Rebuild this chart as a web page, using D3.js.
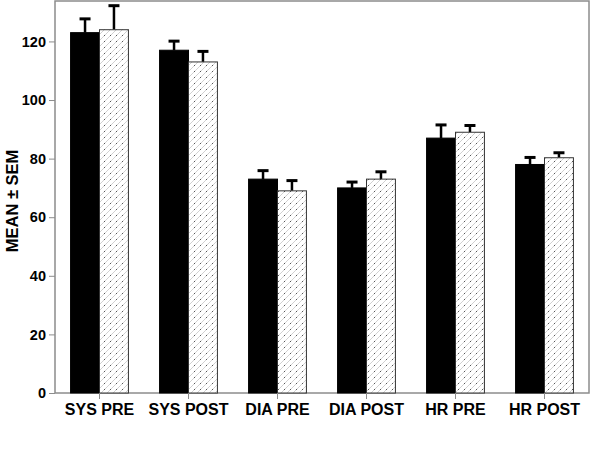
<!DOCTYPE html>
<html>
<head>
<meta charset="utf-8">
<script src="https://cdn.jsdelivr.net/npm/d3@7"></script>
<style>
  body { margin: 0; background: #fff; }
  text { font-family: "Liberation Sans", Arial, sans-serif; font-weight: bold; fill: #000; }
</style>
</head>
<body>
<div id="chart"></div>
<script>
var categories = ["SYS PRE", "SYS POST", "DIA PRE", "DIA POST", "HR PRE", "HR POST"];
var blackMeans = [123, 117, 73, 70, 87, 78];
var blackSem   = [4.7, 3.1, 2.9, 2.0, 4.5, 2.4];
var hatchMeans = [124, 113, 69, 73, 89, 80.3];
var hatchSem   = [8.2, 3.6, 3.5, 2.5, 2.3, 1.7];
var yTicks = [0, 20, 40, 60, 80, 100, 120];

var width = 600, height = 455;
var margin = {top: 1, right: 11, bottom: 62, left: 55};
var w = width - margin.left - margin.right,
    h = height - margin.top - margin.bottom;

var svg = d3.select("#chart").append("svg")
    .attr("width", width)
    .attr("height", height);

// hatch pattern: light diagonal lines with a few dots
var defs = svg.append("defs");
var pat = defs.append("pattern")
    .attr("id", "hatch")
    .attr("patternUnits", "userSpaceOnUse")
    .attr("width", 6)
    .attr("height", 6);
pat.append("rect").attr("width", 6).attr("height", 6).attr("fill", "#fff");
pat.append("path")
    .attr("d", "M-1,7 L7,-1 M-1,1 L1,-1 M5,7 L7,5")
    .attr("stroke", "#bdbdbd")
    .attr("stroke-width", 0.7);
pat.append("rect").attr("x", 1).attr("y", 4).attr("width", 1).attr("height", 1).attr("fill", "#555");

var g = svg.append("g").attr("transform", "translate(" + margin.left + "," + margin.top + ")");

var x = d3.scaleBand()
    .domain(categories)
    .range([0, w])
    .paddingInner(0.35)
    .paddingOuter(0.175);

var y = d3.scaleLinear()
    .domain([0, 133.8])
    .range([h, 0]);

var half = x.bandwidth() / 2;

// frame
g.append("rect")
    .attr("x", 0).attr("y", 0)
    .attr("width", w).attr("height", h)
    .attr("fill", "none")
    .attr("stroke", "#8c8c8c")
    .attr("stroke-width", 1.5);

var series = [
    {means: blackMeans, sem: blackSem, fill: "#000", stroke: "#000", off: 0},
    {means: hatchMeans, sem: hatchSem, fill: "url(#hatch)", stroke: "#333", off: half}
];

series.forEach(function (s) {
    var grp = g.append("g");
    // error bars (upper only)
    grp.selectAll("line.err")
        .data(categories)
        .enter().append("line")
        .attr("class", "err")
        .attr("x1", function (d) { return x(d) + s.off + half / 2; })
        .attr("x2", function (d) { return x(d) + s.off + half / 2; })
        .attr("y1", function (d, i) { return y(s.means[i]); })
        .attr("y2", function (d, i) { return y(s.means[i] + s.sem[i]); })
        .attr("stroke", "#000")
        .attr("stroke-width", 2.5);
    grp.selectAll("line.cap")
        .data(categories)
        .enter().append("line")
        .attr("class", "cap")
        .attr("x1", function (d) { return x(d) + s.off + half / 2 - 5.5; })
        .attr("x2", function (d) { return x(d) + s.off + half / 2 + 5.5; })
        .attr("y1", function (d, i) { return y(s.means[i] + s.sem[i]); })
        .attr("y2", function (d, i) { return y(s.means[i] + s.sem[i]); })
        .attr("stroke", "#000")
        .attr("stroke-width", 3);
    grp.selectAll("rect")
        .data(categories)
        .enter().append("rect")
        .attr("x", function (d) { return x(d) + s.off; })
        .attr("y", function (d, i) { return y(s.means[i]); })
        .attr("width", half)
        .attr("height", function (d, i) { return h - y(s.means[i]); })
        .attr("fill", s.fill)
        .attr("stroke", s.stroke)
        .attr("stroke-width", 1);
});

// y axis
var yAxis = g.append("g")
    .call(d3.axisLeft(y).tickValues(yTicks).tickSize(6).tickPadding(3));
yAxis.select(".domain").remove();
yAxis.selectAll(".tick line").attr("stroke", "#8c8c8c");
yAxis.selectAll("text").style("font-size", "14.5px").style("font-family", "Liberation Sans, Arial, sans-serif").style("font-weight", "bold").attr("fill", "#000");

// x axis
var xAxis = g.append("g")
    .attr("transform", "translate(0," + h + ")")
    .call(d3.axisBottom(x).tickSize(6).tickPadding(5));
xAxis.select(".domain").remove();
xAxis.selectAll(".tick line").attr("stroke", "#8c8c8c");
xAxis.selectAll("text").style("font-size", "16px").style("font-family", "Liberation Sans, Arial, sans-serif").style("font-weight", "bold").attr("fill", "#000");

// y title
svg.append("text")
    .attr("transform", "translate(18,201) rotate(-90)")
    .attr("text-anchor", "middle")
    .style("font-size", "16.5px")
    .text("MEAN ± SEM");
</script>
</body>
</html>
